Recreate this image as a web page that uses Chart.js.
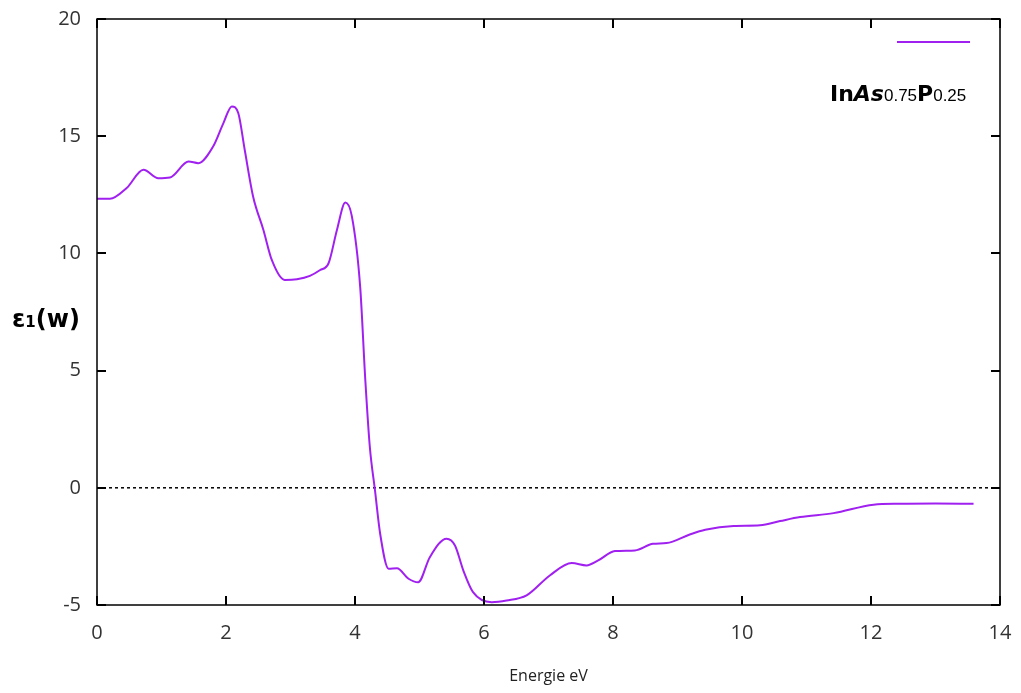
<!DOCTYPE html>
<html>
  <head>
    <title>InAs0.75P0.25 - epsilon1</title>
    <meta charset="utf-8">
    <script src="https://cdn.jsdelivr.net/npm/chart.js@4.4.1/dist/chart.umd.min.js"></script>
    <style>
      body { margin: 0; background: #ffffff; }
      #chartdiv { width: 1021px; height: 693px; }
    </style>
  </head>
  <body>
    <div id="chartdiv">
      <canvas id="myChart" width="1021" height="693"></canvas>
    </div>

    <script>
      // real part of the dielectric function vs photon energy
      var energy = [0, 0.2, 0.46, 0.72, 0.95, 1.13, 1.42, 1.57, 1.80, 1.96, 2.09, 2.19, 2.29, 2.42, 2.58, 2.71,
                    2.91, 3.10, 3.30, 3.46, 3.59, 3.72, 3.85, 3.95, 4.08, 4.16, 4.23, 4.31, 4.39, 4.52, 4.65,
                    4.83, 4.98, 5.16, 5.42, 5.55, 5.68, 5.83, 6.12, 6.35, 6.66, 7.02, 7.36, 7.59, 7.77, 8.03,
                    8.34, 8.62, 8.83, 9.19, 9.43, 9.87, 10.28, 10.59, 10.90, 11.42, 12.04, 12.45, 13.0, 13.59];
      var eps1 = [12.33, 12.33, 12.79, 13.57, 13.21, 13.24, 13.92, 13.85, 14.56, 15.56, 16.27, 15.99, 14.42, 12.43, 11.0, 9.72,
                  8.87, 8.90, 9.04, 9.29, 9.58, 11.0, 12.17, 11.6, 8.58, 4.59, 1.74, -0.11, -1.96, -3.45, -3.43,
                  -3.88, -4.03, -2.96, -2.17, -2.46, -3.53, -4.45, -4.88, -4.81, -4.59, -3.74, -3.21, -3.31, -3.10, -2.70,
                  -2.67, -2.39, -2.36, -1.99, -1.79, -1.63, -1.60, -1.42, -1.25, -1.08, -0.72, -0.68, -0.67, -0.68];
      var zeroX = [0, 14];
      var zeroY = [0, 0];
      var xTicks = [0, 2, 4, 6, 8, 10, 12, 14];
      var yTicks = [-5, 0, 5, 10, 15, 20];

      var curve = energy.map(function(e, i) { return {x: e, y: eps1[i]}; });
      var zero = zeroX.map(function(e, i) { return {x: e, y: zeroY[i]}; });

      var purple = '#a020f0';

      // frame with inward ticks on all four sides, y label and key
      var framePlugin = {
        id: 'frame',
        afterDatasetsDraw: function(chart) {
          var c = chart.ctx, a = chart.chartArea;
          var sx = chart.scales.x, sy = chart.scales.y;
          c.save();
          c.strokeStyle = '#000';
          c.lineWidth = 1.5;
          c.strokeRect(a.left, a.top, a.right - a.left, a.bottom - a.top);
          c.lineWidth = 2;
          c.beginPath();
          xTicks.forEach(function(t) {
            var px = Math.round(sx.getPixelForValue(t));
            c.moveTo(px, a.bottom); c.lineTo(px, a.bottom - 9);
            c.moveTo(px, a.top); c.lineTo(px, a.top + 9);
          });
          yTicks.forEach(function(t) {
            var py = Math.round(sy.getPixelForValue(t));
            c.moveTo(a.left, py); c.lineTo(a.left + 9, py);
            c.moveTo(a.right, py); c.lineTo(a.right - 9, py);
          });
          c.stroke();

          // y axis label
          c.fillStyle = '#000';
          c.textBaseline = 'alphabetic';
          c.textAlign = 'left';
          c.font = 'bold 24px "DejaVu Sans"';
          var lx = 12, ly = 327;
          c.fillText('ε', lx, ly);
          lx += c.measureText('ε').width;
          c.font = 'bold 15px "DejaVu Sans"';
          c.fillText('1', lx, ly);
          lx += c.measureText('1').width;
          c.font = 'bold 24px "DejaVu Sans"';
          c.fillText('(w)', lx, ly);

          // key
          c.strokeStyle = purple;
          c.lineWidth = 2;
          c.beginPath();
          c.moveTo(897, 42); c.lineTo(970, 42);
          c.stroke();
          var parts = [['In', 'bold 22px "DejaVu Sans"'], ['As', 'bold italic 22px "DejaVu Sans"'],
                       ['0.75', '17px "Liberation Sans"'], ['P', 'bold 22px "DejaVu Sans"'],
                       ['0.25', '17px "Liberation Sans"']];
          var tx = 830;
          parts.forEach(function(p) {
            c.font = p[1];
            c.fillText(p[0], tx, 101);
            tx += c.measureText(p[0]).width;
          });
          c.restore();
        }
      };

      var ctx = document.getElementById('myChart').getContext('2d');
      var myChart = new Chart(ctx, {
        type: 'line',
        data: {
          datasets: [{
            label: 'InAs0.75P0.25',
            data: curve,
            borderColor: purple,
            borderWidth: 2,
            pointRadius: 0,
            cubicInterpolationMode: 'monotone',
            fill: false
          }, {
            label: 'zero',
            data: zero,
            borderColor: '#000',
            borderWidth: 1.5,
            borderDash: [3, 3],
            pointRadius: 0,
            fill: false
          }]
        },
        plugins: [framePlugin],
        options: {
          responsive: false,
          animation: false,
          layout: { padding: { left: 0, right: 21, top: 19, bottom: 0 } },
          plugins: { legend: { display: false }, tooltip: { enabled: false } },
          scales: {
            x: {
              type: 'linear',
              min: 0, max: 14,
              afterBuildTicks: function(s) { s.ticks = xTicks.map(function(v) { return {value: v}; }); },
              afterFit: function(s) { s.height = 88; s.paddingLeft = 0; s.paddingRight = 0; },
              grid: { display: false, drawTicks: false },
              border: { display: false },
              ticks: { color: '#333', font: { family: 'Open Sans', size: 20 }, padding: 16, maxRotation: 0 },
              title: { display: true, text: 'Energie eV', color: '#222',
                       font: { family: 'Open Sans', size: 16 }, padding: { top: 0, bottom: 7 } }
            },
            y: {
              min: -5, max: 20,
              afterBuildTicks: function(s) { s.ticks = yTicks.map(function(v) { return {value: v}; }); },
              afterFit: function(s) { s.width = 97; s.paddingTop = 0; s.paddingBottom = 0; },
              grid: { display: false, drawTicks: false },
              border: { display: false },
              ticks: { color: '#333', font: { family: 'Open Sans', size: 20 }, padding: 16 }
            }
          }
        }
      });
    </script>
  </body>
</html>
